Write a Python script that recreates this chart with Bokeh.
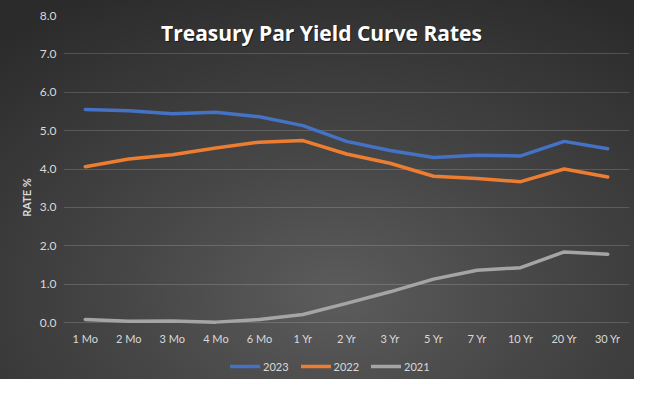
from bokeh.plotting import figure
from bokeh.models import FactorRange, Legend, LegendItem, Label, FixedTicker, NumeralTickFormatter
from bokeh.core.properties import value
from bokeh.embed import file_html
from bokeh.resources import INLINE

maturities = ["1 Mo", "2 Mo", "3 Mo", "4 Mo", "6 Mo", "1 Yr", "2 Yr", "3 Yr", "5 Yr", "7 Yr", "10 Yr", "20 Yr", "30 Yr"]
rates_2023 = [5.55, 5.52, 5.44, 5.48, 5.36, 5.13, 4.72, 4.48, 4.30, 4.36, 4.34, 4.72, 4.53]
rates_2022 = [4.06, 4.26, 4.37, 4.55, 4.70, 4.74, 4.39, 4.15, 3.81, 3.75, 3.67, 4.00, 3.79]
rates_2021 = [0.08, 0.03, 0.04, 0.01, 0.08, 0.21, 0.50, 0.80, 1.13, 1.36, 1.43, 1.84, 1.78]
y_ticks = [0, 1, 2, 3, 4, 5, 6, 7, 8]
series_names = ["2023", "2022", "2021"]
series_colors = ["#4472C4", "#ED7D31", "#A5A5A5"]
title_text = "Treasury Par Yield Curve Rates"

FONT = "Lato"
TXT = "#d9d9d9"

p = figure(
    width=634, height=379,
    x_range=FactorRange(*maturities, range_padding=0, factor_padding=0),
    y_range=(-1.485, 8),
    output_backend="svg", toolbar_location=None,
    min_border_left=63, min_border_right=5, min_border_top=15, min_border_bottom=0,
)
p.background_fill_alpha = 0
p.border_fill_alpha = 0
p.outline_line_color = None
p.styles = {"background": "radial-gradient(ellipse 80% 90% at 53% 78%, #5c5c5c 0%, #474747 40%, #2b2b2b 100%)"}

p.xaxis.visible = False
p.xgrid.grid_line_color = None
p.ygrid.grid_line_color = "#ffffff"
p.ygrid.grid_line_alpha = 0.16
p.ygrid.grid_line_width = 1

ya = p.yaxis[0]
ya.axis_line_color = None
ya.major_tick_line_color = None
ya.minor_tick_line_color = None
ya.major_tick_out = 0
ya.major_tick_in = 0
ya.major_label_text_font = FONT
ya.major_label_text_font_size = "12px"
ya.major_label_text_color = TXT
ya.ticker = FixedTicker(ticks=y_ticks)
ya.formatter = NumeralTickFormatter(format="0.0")
ya.major_label_standoff = 7
ya.axis_label = "RATE %"
ya.axis_label_text_font = FONT
ya.axis_label_text_font_size = "11px"
ya.axis_label_text_font_style = "bold"
ya.axis_label_text_color = TXT
ya.axis_label_standoff = 4

# category labels along the zero line
p.text(x=maturities, y=-0.42, text=maturities, text_font=value(FONT),
       text_font_size="11px", text_color=TXT, text_align="center", text_baseline="middle")

renderers = []
for vals, name, col in zip([rates_2023, rates_2022, rates_2021], series_names, series_colors):
    r = p.line(x=maturities, y=vals, line_color=col, line_width=3.5,
               line_cap="round", line_join="round")
    renderers.append(r)

legend = Legend(
    items=[LegendItem(label=n, renderers=[r]) for n, r in zip(series_names, renderers)],
    orientation="horizontal",
    location=(167, 6),
    background_fill_alpha=0, border_line_color=None,
    label_text_font=FONT, label_text_font_size="11px", label_text_color=TXT,
    glyph_width=30, glyph_height=14, label_standoff=3, spacing=12,
    padding=0, margin=0, label_height=14,
)
p.add_layout(legend, "center")

shadow = Label(x=259, y=346, x_units="screen", y_units="screen", text=title_text,
               text_font="Open Sans", text_font_size="21px", text_font_style="bold",
               text_color="#000000", text_alpha=0.5, text_align="center", text_baseline="middle")
title = Label(x=258, y=347, x_units="screen", y_units="screen", text=title_text,
              text_font="Open Sans", text_font_size="21px", text_font_style="bold",
              text_color="#ffffff", text_align="center", text_baseline="middle")
p.add_layout(shadow)
p.add_layout(title)

open("out.html", "w").write(file_html(p, INLINE))
